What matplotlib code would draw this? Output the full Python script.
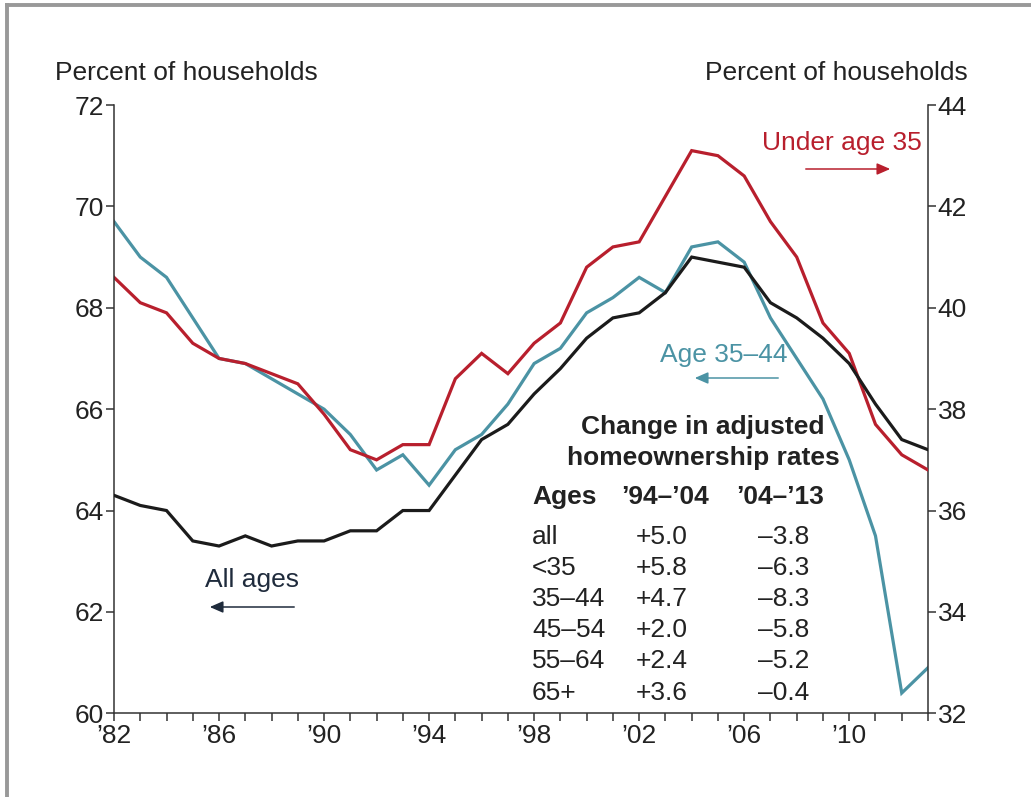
import matplotlib
matplotlib.use("Agg")
import matplotlib.pyplot as plt
from matplotlib.lines import Line2D

plt.rcParams['font.family'] = ['Liberation Sans', 'DejaVu Sans']

years = list(range(1982, 2014))
all_ages = [64.3, 64.1, 64.0, 63.4, 63.3, 63.5, 63.3, 63.4, 63.4, 63.6,
            63.6, 64.0, 64.0, 64.7, 65.4, 65.7, 66.3, 66.8, 67.4, 67.8,
            67.9, 68.3, 69.0, 68.9, 68.8, 68.1, 67.8, 67.4, 66.9, 66.1,
            65.4, 65.2]
under_35 = [40.6, 40.1, 39.9, 39.3, 39.0, 38.9, 38.7, 38.5, 37.9, 37.2,
            37.0, 37.3, 37.3, 38.6, 39.1, 38.7, 39.3, 39.7, 40.8, 41.2,
            41.3, 42.2, 43.1, 43.0, 42.6, 41.7, 41.0, 39.7, 39.1, 37.7,
            37.1, 36.8]
age_35_44 = [41.7, 41.0, 40.6, 39.8, 39.0, 38.9, 38.6, 38.3, 38.0, 37.5,
             36.8, 37.1, 36.5, 37.2, 37.5, 38.1, 38.9, 39.2, 39.9, 40.2,
             40.6, 40.3, 41.2, 41.3, 40.9, 39.8, 39.0, 38.2, 37.0, 35.5,
             32.4, 32.9]

left_ticks = [60, 62, 64, 66, 68, 70, 72]
right_ticks = [32, 34, 36, 38, 40, 42, 44]
xtick_years = [1982, 1986, 1990, 1994, 1998, 2002, 2006, 2010]
xtick_labels = ["\u201982", "\u201986", "\u201990", "\u201994", "\u201998",
                "\u201902", "\u201906", "\u201910"]

table_title = ["Change in adjusted", "homeownership rates"]
table_header = ["Ages", "\u201994\u2013\u201904", "\u201904\u2013\u201913"]
table_ages = ["all", "<35", "35\u201344", "45\u201354", "55\u201364", "65+"]
table_9404 = ["+5.0", "+5.8", "+4.7", "+2.0", "+2.4", "+3.6"]
table_0413 = ["\u20133.8", "\u20136.3", "\u20138.3", "\u20135.8", "\u20135.2", "\u20130.4"]

RED = "#b81f2d"
TEAL = "#4b93a4"
BLACK = "#1b1b1b"
NAVY = "#1f2b3c"
TXT = "#222222"
FS = 19

W, H = 1031, 797
fig = plt.figure(figsize=(W / 100, H / 100), dpi=100)
fig.patch.set_facecolor("white")

def fx(px):
    return px / W

def fy(py):
    return 1 - py / H

ax = fig.add_axes([fx(114), fy(713.3), fx(928) - fx(114), fy(105) - fy(713.3)])
ax2 = ax.twinx()

ax.plot(years, all_ages, color=BLACK, lw=2.3, solid_joinstyle='miter', zorder=3)
ax2.plot(years, age_35_44, color=TEAL, lw=2.3, solid_joinstyle='miter', zorder=2)
ax2.plot(years, under_35, color=RED, lw=2.3, solid_joinstyle='miter', zorder=3)
ax.set_zorder(ax2.get_zorder() + 1)
ax.patch.set_visible(False)

ax.set_xlim(1982, 2013)
ax.set_ylim(60, 72)
ax2.set_ylim(32, 44)
ax.set_yticks(left_ticks)
ax2.set_yticks(right_ticks)
ax.set_xticks(years, minor=True)
ax.set_xticks(xtick_years)
ax.set_xticklabels(xtick_labels)

for a in (ax, ax2):
    for s in a.spines.values():
        s.set_color("#333333")
        s.set_linewidth(1.1)
    a.spines['top'].set_visible(False)
ax.spines['right'].set_visible(False)
ax2.spines['left'].set_visible(False)
ax2.spines['bottom'].set_visible(False)

ax.tick_params(axis='y', direction='out', length=6, width=1.1, color="#333333",
               labelsize=FS, labelcolor=TXT, pad=1)
ax2.tick_params(axis='y', direction='out', length=6, width=1.1, color="#333333",
                labelsize=FS, labelcolor=TXT, pad=1)
ax.tick_params(axis='x', which='both', direction='out', length=6, width=1.1,
               color="#333333", labelsize=FS, labelcolor=TXT, pad=2)

# axis titles
fig.text(fx(55), fy(80), "Percent of households", fontsize=FS, color=TXT,
         ha='left', va='baseline')
fig.text(fx(968), fy(80), "Percent of households", fontsize=FS, color=TXT,
         ha='right', va='baseline')

arrow_style = '-|>,head_length=8,head_width=3.5'

# series labels with arrows
fig.text(fx(842), fy(143), "Under age 35", fontsize=FS, color=RED, ha='center', va='center')
fig.add_artist(matplotlib.patches.FancyArrowPatch(
    (fx(803), fy(169)), (fx(893), fy(169)), transform=fig.transFigure,
    arrowstyle=arrow_style, color=RED, lw=1.1))

fig.text(fx(724), fy(355), "Age 35\u201344", fontsize=FS, color=TEAL, ha='center', va='center')
fig.add_artist(matplotlib.patches.FancyArrowPatch(
    (fx(781), fy(378)), (fx(692), fy(378)), transform=fig.transFigure,
    arrowstyle=arrow_style, color=TEAL, lw=1.1))

fig.text(fx(252), fy(580), "All ages", fontsize=FS, color=NAVY, ha='center', va='center')
fig.add_artist(matplotlib.patches.FancyArrowPatch(
    (fx(297), fy(607)), (fx(207), fy(607)), transform=fig.transFigure,
    arrowstyle=arrow_style, color=NAVY, lw=1.1))

# table
fig.text(fx(703), fy(427), table_title[0], fontsize=FS, fontweight='bold', color=TXT,
         ha='center', va='center')
fig.text(fx(703), fy(458), table_title[1], fontsize=FS, fontweight='bold', color=TXT,
         ha='center', va='center')
fig.text(fx(532), fy(497), table_header[0], fontsize=FS, fontweight='bold', color=TXT,
         ha='left', va='center')
fig.text(fx(665), fy(497), table_header[1], fontsize=FS, fontweight='bold', color=TXT,
         ha='center', va='center')
fig.text(fx(780), fy(497), table_header[2], fontsize=FS, fontweight='bold', color=TXT,
         ha='center', va='center')
row_y = [537, 568, 599, 630, 661, 693]
for i in range(len(table_ages)):
    fig.text(fx(532), fy(row_y[i]), table_ages[i], fontsize=FS, color=TXT, ha='left', va='center')
    fig.text(fx(662), fy(row_y[i]), table_9404[i], fontsize=FS, color=TXT, ha='center', va='center')
    fig.text(fx(784), fy(row_y[i]), table_0413[i], fontsize=FS, color=TXT, ha='center', va='center')

# outer gray frame (partially visible)
fig.add_artist(Line2D([fx(7), fx(7)], [fy(4.5), fy(800)], transform=fig.transFigure,
                      color="#999999", lw=2.8))
fig.add_artist(Line2D([fx(7), fx(1040)], [fy(4.5), fy(4.5)], transform=fig.transFigure,
                      color="#999999", lw=2.8))

fig.savefig("out.png", dpi=100)
